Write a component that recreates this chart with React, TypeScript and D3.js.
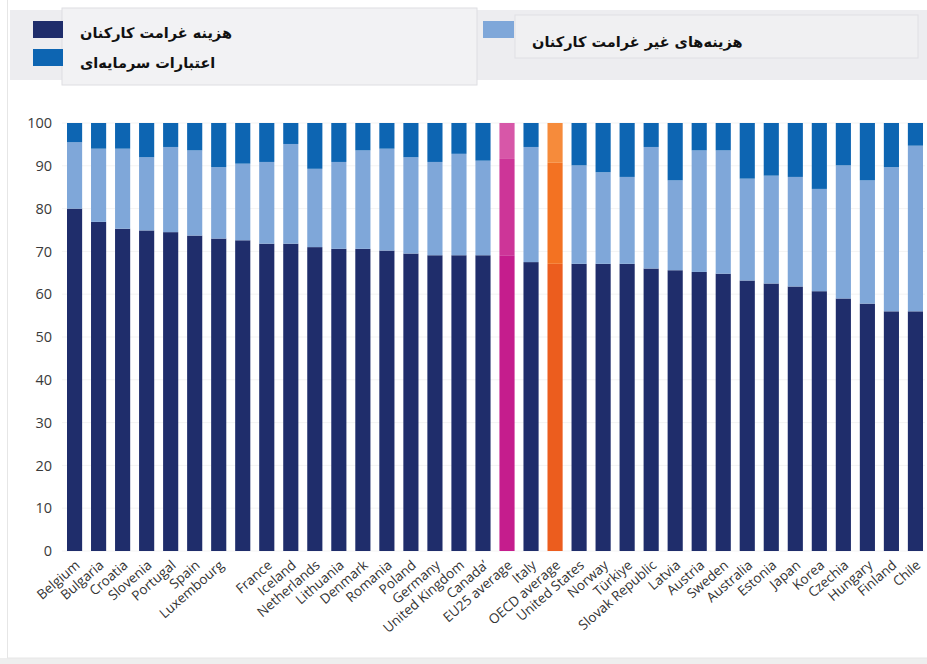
import React from 'react';
import * as d3 from 'd3';

// categories (one bar has no label in the source)
const countries = [
  'Belgium', 'Bulgaria', 'Croatia', 'Slovenia', 'Portugal', 'Spain', 'Luxembourg', '',
  'France', 'Iceland', 'Netherlands', 'Lithuania', 'Denmark', 'Romania', 'Poland', 'Germany',
  'United Kingdom', 'Canada\u02bc', 'EU25 average', 'Italy', 'OECD average', 'United States',
  'Norway', 'Türkiye', 'Slovak Republic', 'Latvia', 'Austria', 'Sweden', 'Australia', 'Estonia',
  'Japan', 'Korea', 'Czechia', 'Hungary', 'Finland', 'Chile',
];

// staff compensation share (bottom segment)
const staffCosts = [
  80.0, 76.9, 75.3, 74.9, 74.5, 73.7, 73.0, 72.6, 71.8, 71.8, 71.0, 70.6, 70.6, 70.2, 69.5, 69.1,
  69.1, 69.1, 69.1, 67.5, 67.1, 67.1, 67.1, 67.1, 66.0, 65.6, 65.2, 64.8, 63.2, 62.5,
  61.8, 60.7, 59.0, 57.8, 56.0, 56.0,
];

// non-staff compensation share (middle segment)
const nonStaffCosts = [
  15.5, 17.1, 18.7, 17.1, 19.9, 19.9, 16.7, 17.9, 19.1, 23.3, 18.3, 20.3, 23.0, 23.8, 22.5, 21.8,
  23.7, 22.1, 22.5, 26.9, 23.6, 23.0, 21.4, 20.3, 28.4, 21.0, 28.4, 28.8, 23.8, 25.2,
  25.6, 23.9, 31.1, 28.8, 33.7, 38.7,
];

// capital share (top segment)
const capitalCosts = [
  4.5, 6.0, 6.0, 8.0, 5.6, 6.4, 10.3, 9.5, 9.1, 4.9, 10.7, 9.1, 6.4, 6.0, 8.0, 9.1,
  7.2, 8.8, 8.4, 5.6, 9.3, 9.9, 11.5, 12.6, 5.6, 13.4, 6.4, 6.4, 13.0, 12.3,
  12.6, 15.4, 9.9, 13.4, 10.3, 5.3,
];

const yTicks = [0, 10, 20, 30, 40, 50, 60, 70, 80, 90, 100];

const legendStaff = 'هزینه غرامت کارکنان';
const legendCapital = 'اعتبارات سرمایه\u200cای';
const legendNonStaff = 'هزینه\u200cهای غیر غرامت کارکنان';

const keys = ['staff', 'nonStaff', 'capital'] as const;
const baseColors: Record<string, string> = { staff: '#1f2d6b', nonStaff: '#7fa7d9', capital: '#0d65b2' };
const euColors: Record<string, string> = { staff: '#c51d8d', nonStaff: '#cd3598', capital: '#d757a8' };
const oecdColors: Record<string, string> = { staff: '#ec5d1e', nonStaff: '#f37222', capital: '#f68b3b' };

const W = 927;
const H = 664;

const App: React.FC = () => {
  const rows = countries.map((c, i) => ({
    name: c,
    idx: i,
    staff: staffCosts[i],
    nonStaff: nonStaffCosts[i],
    capital: capitalCosts[i],
  }));

  const x = d3.scaleBand<number>()
    .domain(rows.map(d => d.idx))
    .range([67, 923])
    .paddingInner(0.37)
    .paddingOuter(0);

  const y = d3.scaleLinear().domain([0, 100]).range([551, 123]);

  const series = d3.stack<any>().keys(keys as unknown as string[])(rows);

  const colorFor = (key: string, name: string) => {
    if (name === 'EU25 average') return euColors[key];
    if (name === 'OECD average') return oecdColors[key];
    return baseColors[key];
  };

  const tickFont = '"Open Sans", "Noto Sans", sans-serif';
  const faFont = '"DejaVu Sans", "Noto Sans", sans-serif';

  return (
    <div style={{ position: 'absolute', left: 0, top: 0 }}>
      <svg width={W} height={H} style={{ display: 'block', background: '#ffffff' }}>
        {/* panel */}
        <rect x={0} y={658} width={W} height={H - 658} fill="#eeeeee" />
        <rect x={7.5} y={-1} width={W} height={659} fill="#ffffff" stroke="#e6e6e6" />

        {/* legend band */}
        <rect x={10} y={10} width={917} height={70} fill="#ededf0" />
        <rect x={62} y={8} width={415} height={77} fill="#f2f2f4" stroke="#dedee2" />
        <rect x={515} y={15} width={403} height={43} fill="#f0f0f2" stroke="#e0e0e4" />
        <rect x={33} y={21} width={30} height={17} fill={baseColors.staff} />
        <rect x={33} y={49} width={30} height={17} fill={baseColors.capital} />
        <rect x={483} y={21} width={31} height={17} fill={baseColors.nonStaff} />
        <text x={80} y={38} fontFamily={faFont} fontWeight="bold" fontSize={14.5} fill="#111">{legendStaff}</text>
        <text x={80} y={68} fontFamily={faFont} fontWeight="bold" fontSize={14.5} fill="#111">{legendCapital}</text>
        <text x={532} y={47} fontFamily={faFont} fontWeight="bold" fontSize={14.5} fill="#111">{legendNonStaff}</text>

        {/* gridlines */}
        {yTicks.map(t => (
          <line key={'g' + t} x1={62} x2={925} y1={y(t)} y2={y(t)} stroke="#f3f3f3" strokeWidth={1} />
        ))}

        {/* y axis labels */}
        {yTicks.map(t => (
          <text key={'t' + t} x={52} y={y(t)} dy="0.36em" textAnchor="end"
            fontFamily={tickFont} fontSize={14.5} fill="#3a3a3a">{t}</text>
        ))}

        {/* stacked bars */}
        {series.map(s => (
          <g key={s.key}>
            {s.map((d, i) => (
              <rect key={i}
                x={x(rows[i].idx)}
                y={y(d[1])}
                width={x.bandwidth()}
                height={y(d[0]) - y(d[1])}
                fill={colorFor(s.key, rows[i].name)} />
            ))}
          </g>
        ))}

        {/* x labels */}
        {rows.map(r => (
          <text key={'x' + r.idx}
            transform={`translate(${(x(r.idx) ?? 0) + x.bandwidth() / 2 + 3},${563}) rotate(-41)`}
            textAnchor="end" dy="0.35em"
            fontFamily={tickFont} fontSize={13.5} fill="#333333">{r.name}</text>
        ))}
      </svg>
    </div>
  );
};

export default App;
